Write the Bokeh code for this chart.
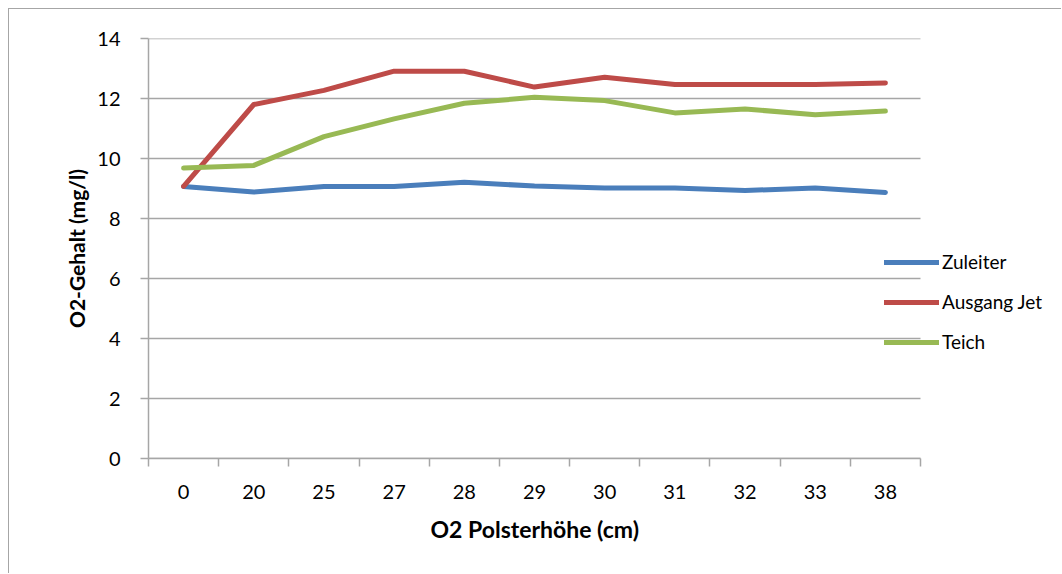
from bokeh.plotting import figure
from bokeh.models import Range1d, FixedTicker, Legend, LegendItem, ColumnDataSource, Title
from bokeh.embed import file_html
from bokeh.resources import INLINE

categories = ["0", "20", "25", "27", "28", "29", "30", "31", "32", "33", "38"]
zuleiter = [9.07, 8.88, 9.07, 9.07, 9.21, 9.08, 9.02, 9.02, 8.93, 9.02, 8.87]
ausgang_jet = [9.07, 11.80, 12.27, 12.91, 12.91, 12.38, 12.71, 12.47, 12.47, 12.47, 12.52]
teich = [9.68, 9.77, 10.73, 11.32, 11.84, 12.04, 11.93, 11.52, 11.65, 11.46, 11.58]
y_ticks = [0, 2, 4, 6, 8, 10, 12, 14]

series = [("Zuleiter", zuleiter, "#4A7EBB"),
          ("Ausgang Jet", ausgang_jet, "#BE4B48"),
          ("Teich", teich, "#98B954")]

FONT = "Lato"
GRID = "#A6A6A6"

n = len(categories)
xpos = [i + 0.5 for i in range(n)]

# plotting area of the categories is 772 px wide; the frame extends to the right edge
FRAME_W = 914
CAT_W = 772
x_end = n * FRAME_W / CAT_W

p = figure(width=1053, height=565, output_backend="svg", toolbar_location=None,
           x_range=Range1d(0, x_end), y_range=Range1d(0, 14),
           min_border_left=139, min_border_top=29, min_border_right=0, min_border_bottom=116,
           margin=(8, 0, 0, 8))
p.styles = {"border-left": "1px solid #A6A6A6", "border-top": "1px solid #A6A6A6"}
p.outline_line_color = None
p.background_fill_color = "white"
p.border_fill_color = "white"

# axes
p.xaxis.bounds = (0, n)
p.xaxis.ticker = FixedTicker(ticks=xpos, minor_ticks=list(range(n + 1)))
p.xaxis.major_label_overrides = {x: c for x, c in zip(xpos, categories)}
p.xaxis.major_tick_out = 0
p.xaxis.major_tick_in = 0
p.xaxis.minor_tick_out = 8
p.xaxis.minor_tick_in = 0
p.xaxis.minor_tick_line_color = GRID
p.xaxis.minor_tick_line_width = 1.5
p.xaxis.axis_line_color = GRID
p.xaxis.axis_line_width = 1.5
p.xaxis.major_label_standoff = 18

p.yaxis.ticker = FixedTicker(ticks=y_ticks, minor_ticks=[])
p.yaxis.major_tick_out = 8
p.yaxis.major_tick_in = 0
p.yaxis.major_tick_line_color = GRID
p.yaxis.major_tick_line_width = 1.5
p.yaxis.axis_line_color = GRID
p.yaxis.axis_line_width = 1.5
p.yaxis.major_label_standoff = 20
p.yaxis.axis_label = "O2-Gehalt (mg/l)"
p.yaxis.axis_label_standoff = 5

for ax in (p.xaxis[0], p.yaxis[0]):
    ax.major_label_text_font = FONT
    ax.major_label_text_font_size = "20px"
    ax.major_label_text_color = "black"
    ax.axis_label_text_font = FONT
    ax.axis_label_text_font_style = "bold"
    ax.axis_label_text_color = "black"
p.yaxis.axis_label_text_font_size = "21px"

# x axis title, centred under the category area
xtitle = Title(text="O2 Polsterhöhe (cm)", align="left", offset=282, standoff=22,
               text_font=FONT, text_font_size="23px", text_font_style="bold",
               text_color="black")
p.add_layout(xtitle, "below")

p.xgrid.visible = False
p.ygrid.visible = False

# horizontal gridlines over the category area only
p.segment(x0=[0] * len(y_ticks), x1=[n] * len(y_ticks), y0=y_ticks, y1=y_ticks,
          line_color=GRID, line_width=1.5)

items = []
for name, vals, col in series:
    src = ColumnDataSource(dict(x=xpos, y=vals))
    r = p.line("x", "y", source=src, line_color=col, line_width=5,
               line_cap="round", line_join="round")
    items.append(LegendItem(label=name, renderers=[r]))

legend = Legend(items=items, location=(736, 105))
legend.border_line_color = None
legend.background_fill_alpha = 0
legend.padding = 0
legend.margin = 0
legend.glyph_width = 55
legend.glyph_height = 20
legend.label_height = 20
legend.spacing = 17
legend.label_standoff = 3
legend.label_text_font = FONT
legend.label_text_font_size = "19px"
legend.label_text_color = "black"
p.add_layout(legend, "center")

open("out.html", "w").write(file_html(p, INLINE))
